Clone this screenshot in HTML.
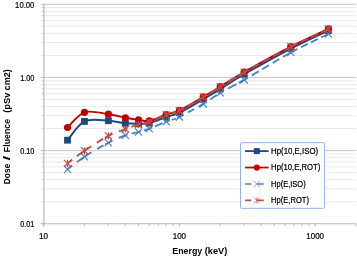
<!DOCTYPE html><html><head><meta charset="utf-8"><title>chart</title><style>html,body{margin:0;padding:0;background:#fff}svg{display:block;will-change:transform}text{font-family:"Liberation Sans",sans-serif;fill:#000;stroke:#000;stroke-width:0.22px}text[font-weight=bold]{stroke:none}</style></head><body>
<svg width="357" height="257" viewBox="0 0 357 257">
<rect width="100%" height="100%" fill="#fff"/>
<line x1="43.6" y1="201.73" x2="356.2" y2="201.73" stroke="#e3e3e3" stroke-width="0.8"/>
<line x1="43.6" y1="188.85" x2="356.2" y2="188.85" stroke="#e3e3e3" stroke-width="0.8"/>
<line x1="43.6" y1="179.71" x2="356.2" y2="179.71" stroke="#e3e3e3" stroke-width="0.8"/>
<line x1="43.6" y1="172.62" x2="356.2" y2="172.62" stroke="#e3e3e3" stroke-width="0.8"/>
<line x1="43.6" y1="166.83" x2="356.2" y2="166.83" stroke="#e3e3e3" stroke-width="0.8"/>
<line x1="43.6" y1="161.93" x2="356.2" y2="161.93" stroke="#e3e3e3" stroke-width="0.8"/>
<line x1="43.6" y1="157.69" x2="356.2" y2="157.69" stroke="#e3e3e3" stroke-width="0.8"/>
<line x1="43.6" y1="153.95" x2="356.2" y2="153.95" stroke="#e3e3e3" stroke-width="0.8"/>
<line x1="43.6" y1="128.58" x2="356.2" y2="128.58" stroke="#e3e3e3" stroke-width="0.8"/>
<line x1="43.6" y1="115.70" x2="356.2" y2="115.70" stroke="#e3e3e3" stroke-width="0.8"/>
<line x1="43.6" y1="106.56" x2="356.2" y2="106.56" stroke="#e3e3e3" stroke-width="0.8"/>
<line x1="43.6" y1="99.47" x2="356.2" y2="99.47" stroke="#e3e3e3" stroke-width="0.8"/>
<line x1="43.6" y1="93.68" x2="356.2" y2="93.68" stroke="#e3e3e3" stroke-width="0.8"/>
<line x1="43.6" y1="88.78" x2="356.2" y2="88.78" stroke="#e3e3e3" stroke-width="0.8"/>
<line x1="43.6" y1="84.54" x2="356.2" y2="84.54" stroke="#e3e3e3" stroke-width="0.8"/>
<line x1="43.6" y1="80.80" x2="356.2" y2="80.80" stroke="#e3e3e3" stroke-width="0.8"/>
<line x1="43.6" y1="55.43" x2="356.2" y2="55.43" stroke="#e3e3e3" stroke-width="0.8"/>
<line x1="43.6" y1="42.55" x2="356.2" y2="42.55" stroke="#e3e3e3" stroke-width="0.8"/>
<line x1="43.6" y1="33.41" x2="356.2" y2="33.41" stroke="#e3e3e3" stroke-width="0.8"/>
<line x1="43.6" y1="26.32" x2="356.2" y2="26.32" stroke="#e3e3e3" stroke-width="0.8"/>
<line x1="43.6" y1="20.53" x2="356.2" y2="20.53" stroke="#e3e3e3" stroke-width="0.8"/>
<line x1="43.6" y1="15.63" x2="356.2" y2="15.63" stroke="#e3e3e3" stroke-width="0.8"/>
<line x1="43.6" y1="11.39" x2="356.2" y2="11.39" stroke="#e3e3e3" stroke-width="0.8"/>
<line x1="43.6" y1="7.65" x2="356.2" y2="7.65" stroke="#e3e3e3" stroke-width="0.8"/>
<line x1="43.6" y1="4.30" x2="356.2" y2="4.30" stroke="#c6c6c6" stroke-width="1"/>
<line x1="43.6" y1="77.45" x2="356.2" y2="77.45" stroke="#c6c6c6" stroke-width="1"/>
<line x1="43.6" y1="150.60" x2="356.2" y2="150.60" stroke="#c6c6c6" stroke-width="1"/>
<line x1="43.90" y1="3.80" x2="43.90" y2="226.55" stroke="#b8b8b8" stroke-width="1.2"/>
<line x1="40.60" y1="223.75" x2="356.20" y2="223.75" stroke="#b8b8b8" stroke-width="1"/>
<line x1="40.90" y1="223.75" x2="43.90" y2="223.75" stroke="#b8b8b8" stroke-width="0.8"/>
<line x1="41.90" y1="201.73" x2="43.90" y2="201.73" stroke="#b8b8b8" stroke-width="0.8"/>
<line x1="41.90" y1="188.85" x2="43.90" y2="188.85" stroke="#b8b8b8" stroke-width="0.8"/>
<line x1="41.90" y1="179.71" x2="43.90" y2="179.71" stroke="#b8b8b8" stroke-width="0.8"/>
<line x1="41.90" y1="172.62" x2="43.90" y2="172.62" stroke="#b8b8b8" stroke-width="0.8"/>
<line x1="41.90" y1="166.83" x2="43.90" y2="166.83" stroke="#b8b8b8" stroke-width="0.8"/>
<line x1="41.90" y1="161.93" x2="43.90" y2="161.93" stroke="#b8b8b8" stroke-width="0.8"/>
<line x1="41.90" y1="157.69" x2="43.90" y2="157.69" stroke="#b8b8b8" stroke-width="0.8"/>
<line x1="41.90" y1="153.95" x2="43.90" y2="153.95" stroke="#b8b8b8" stroke-width="0.8"/>
<line x1="40.90" y1="150.60" x2="43.90" y2="150.60" stroke="#b8b8b8" stroke-width="0.8"/>
<line x1="40.90" y1="150.60" x2="43.90" y2="150.60" stroke="#b8b8b8" stroke-width="0.8"/>
<line x1="41.90" y1="128.58" x2="43.90" y2="128.58" stroke="#b8b8b8" stroke-width="0.8"/>
<line x1="41.90" y1="115.70" x2="43.90" y2="115.70" stroke="#b8b8b8" stroke-width="0.8"/>
<line x1="41.90" y1="106.56" x2="43.90" y2="106.56" stroke="#b8b8b8" stroke-width="0.8"/>
<line x1="41.90" y1="99.47" x2="43.90" y2="99.47" stroke="#b8b8b8" stroke-width="0.8"/>
<line x1="41.90" y1="93.68" x2="43.90" y2="93.68" stroke="#b8b8b8" stroke-width="0.8"/>
<line x1="41.90" y1="88.78" x2="43.90" y2="88.78" stroke="#b8b8b8" stroke-width="0.8"/>
<line x1="41.90" y1="84.54" x2="43.90" y2="84.54" stroke="#b8b8b8" stroke-width="0.8"/>
<line x1="41.90" y1="80.80" x2="43.90" y2="80.80" stroke="#b8b8b8" stroke-width="0.8"/>
<line x1="40.90" y1="77.45" x2="43.90" y2="77.45" stroke="#b8b8b8" stroke-width="0.8"/>
<line x1="40.90" y1="77.45" x2="43.90" y2="77.45" stroke="#b8b8b8" stroke-width="0.8"/>
<line x1="41.90" y1="55.43" x2="43.90" y2="55.43" stroke="#b8b8b8" stroke-width="0.8"/>
<line x1="41.90" y1="42.55" x2="43.90" y2="42.55" stroke="#b8b8b8" stroke-width="0.8"/>
<line x1="41.90" y1="33.41" x2="43.90" y2="33.41" stroke="#b8b8b8" stroke-width="0.8"/>
<line x1="41.90" y1="26.32" x2="43.90" y2="26.32" stroke="#b8b8b8" stroke-width="0.8"/>
<line x1="41.90" y1="20.53" x2="43.90" y2="20.53" stroke="#b8b8b8" stroke-width="0.8"/>
<line x1="41.90" y1="15.63" x2="43.90" y2="15.63" stroke="#b8b8b8" stroke-width="0.8"/>
<line x1="41.90" y1="11.39" x2="43.90" y2="11.39" stroke="#b8b8b8" stroke-width="0.8"/>
<line x1="41.90" y1="7.65" x2="43.90" y2="7.65" stroke="#b8b8b8" stroke-width="0.8"/>
<line x1="40.90" y1="4.30" x2="43.90" y2="4.30" stroke="#b8b8b8" stroke-width="0.8"/>
<line x1="43.60" y1="223.75" x2="43.60" y2="226.55" stroke="#b8b8b8" stroke-width="0.8"/>
<line x1="84.48" y1="223.75" x2="84.48" y2="226.05" stroke="#b8b8b8" stroke-width="0.8"/>
<line x1="108.39" y1="223.75" x2="108.39" y2="226.05" stroke="#b8b8b8" stroke-width="0.8"/>
<line x1="125.36" y1="223.75" x2="125.36" y2="226.05" stroke="#b8b8b8" stroke-width="0.8"/>
<line x1="138.52" y1="223.75" x2="138.52" y2="226.05" stroke="#b8b8b8" stroke-width="0.8"/>
<line x1="149.27" y1="223.75" x2="149.27" y2="226.05" stroke="#b8b8b8" stroke-width="0.8"/>
<line x1="158.36" y1="223.75" x2="158.36" y2="226.05" stroke="#b8b8b8" stroke-width="0.8"/>
<line x1="166.24" y1="223.75" x2="166.24" y2="226.05" stroke="#b8b8b8" stroke-width="0.8"/>
<line x1="173.19" y1="223.75" x2="173.19" y2="226.05" stroke="#b8b8b8" stroke-width="0.8"/>
<line x1="179.40" y1="223.75" x2="179.40" y2="226.55" stroke="#b8b8b8" stroke-width="0.8"/>
<line x1="179.40" y1="223.75" x2="179.40" y2="226.55" stroke="#b8b8b8" stroke-width="0.8"/>
<line x1="220.28" y1="223.75" x2="220.28" y2="226.05" stroke="#b8b8b8" stroke-width="0.8"/>
<line x1="244.19" y1="223.75" x2="244.19" y2="226.05" stroke="#b8b8b8" stroke-width="0.8"/>
<line x1="261.16" y1="223.75" x2="261.16" y2="226.05" stroke="#b8b8b8" stroke-width="0.8"/>
<line x1="274.32" y1="223.75" x2="274.32" y2="226.05" stroke="#b8b8b8" stroke-width="0.8"/>
<line x1="285.07" y1="223.75" x2="285.07" y2="226.05" stroke="#b8b8b8" stroke-width="0.8"/>
<line x1="294.16" y1="223.75" x2="294.16" y2="226.05" stroke="#b8b8b8" stroke-width="0.8"/>
<line x1="302.04" y1="223.75" x2="302.04" y2="226.05" stroke="#b8b8b8" stroke-width="0.8"/>
<line x1="308.99" y1="223.75" x2="308.99" y2="226.05" stroke="#b8b8b8" stroke-width="0.8"/>
<line x1="315.20" y1="223.75" x2="315.20" y2="226.55" stroke="#b8b8b8" stroke-width="0.8"/>
<line x1="315.20" y1="223.75" x2="315.20" y2="226.55" stroke="#b8b8b8" stroke-width="0.8"/>
<line x1="356.08" y1="223.75" x2="356.08" y2="226.05" stroke="#b8b8b8" stroke-width="0.8"/>
<path d="M67.51 140.20 C70.34 137.07 77.67 124.65 84.48 121.40 C91.29 118.15 101.58 120.38 108.39 120.70 C115.21 121.02 120.34 122.80 125.36 123.30 C130.38 123.80 134.53 123.73 138.52 123.70 C142.51 123.67 144.65 124.22 149.27 123.10 C153.89 121.98 161.22 118.73 166.24 117.00 C171.26 115.27 173.22 115.67 179.40 112.70 C185.58 109.73 196.50 103.13 203.31 99.20 C210.13 95.27 213.47 93.25 220.28 89.10 C227.09 84.95 232.43 81.03 244.19 74.30 C255.96 67.57 276.84 55.97 290.87 48.70 C304.90 41.43 322.11 33.70 328.36 30.70" fill="none" stroke="#1f497d" stroke-width="1.9" stroke-linecap="round"/>
<rect x="64.11" y="136.80" width="6.8" height="6.8" fill="#1f497d"/>
<rect x="81.08" y="118.00" width="6.8" height="6.8" fill="#1f497d"/>
<rect x="104.99" y="117.30" width="6.8" height="6.8" fill="#1f497d"/>
<rect x="121.96" y="119.90" width="6.8" height="6.8" fill="#1f497d"/>
<rect x="135.12" y="120.30" width="6.8" height="6.8" fill="#1f497d"/>
<rect x="145.87" y="119.70" width="6.8" height="6.8" fill="#1f497d"/>
<rect x="162.84" y="113.60" width="6.8" height="6.8" fill="#1f497d"/>
<rect x="176.00" y="109.30" width="6.8" height="6.8" fill="#1f497d"/>
<rect x="199.91" y="95.80" width="6.8" height="6.8" fill="#1f497d"/>
<rect x="216.88" y="85.70" width="6.8" height="6.8" fill="#1f497d"/>
<rect x="240.79" y="70.90" width="6.8" height="6.8" fill="#1f497d"/>
<rect x="287.47" y="45.30" width="6.8" height="6.8" fill="#1f497d"/>
<rect x="324.96" y="27.30" width="6.8" height="6.8" fill="#1f497d"/>
<path d="M67.51 127.50 C70.34 124.97 77.67 114.52 84.48 112.30 C91.29 110.08 101.58 113.28 108.39 114.20 C115.21 115.12 120.34 116.87 125.36 117.80 C130.38 118.73 134.53 119.28 138.52 119.80 C142.51 120.32 144.65 121.78 149.27 120.90 C153.89 120.02 161.22 116.25 166.24 114.50 C171.26 112.75 173.22 113.35 179.40 110.40 C185.58 107.45 196.50 100.75 203.31 96.80 C210.13 92.85 213.47 90.83 220.28 86.70 C227.09 82.57 232.43 78.68 244.19 72.00 C255.96 65.32 276.84 53.78 290.87 46.60 C304.90 39.42 322.11 31.85 328.36 28.90" fill="none" stroke="#c00000" stroke-width="1.9" stroke-linecap="round"/>
<circle cx="67.51" cy="127.50" r="3.6" fill="#c00000"/>
<circle cx="84.48" cy="112.30" r="3.6" fill="#c00000"/>
<circle cx="108.39" cy="114.20" r="3.6" fill="#c00000"/>
<circle cx="125.36" cy="117.80" r="3.6" fill="#c00000"/>
<circle cx="138.52" cy="119.80" r="3.6" fill="#c00000"/>
<circle cx="149.27" cy="120.90" r="3.6" fill="#c00000"/>
<circle cx="166.24" cy="114.50" r="3.6" fill="#c00000"/>
<circle cx="179.40" cy="110.40" r="3.6" fill="#c00000"/>
<circle cx="203.31" cy="96.80" r="3.6" fill="#c00000"/>
<circle cx="220.28" cy="86.70" r="3.6" fill="#c00000"/>
<circle cx="244.19" cy="72.00" r="3.6" fill="#c00000"/>
<circle cx="290.87" cy="46.60" r="3.6" fill="#c00000"/>
<circle cx="328.36" cy="28.90" r="3.6" fill="#c00000"/>
<path d="M67.51 169.20 C70.34 167.12 77.67 161.12 84.48 156.70" fill="none" stroke="#4a7ebb" stroke-width="1.8" stroke-dasharray="6.2 5.6 20 99"/>
<path d="M84.48 156.70 C91.29 152.28 101.58 146.27 108.39 142.70" fill="none" stroke="#4a7ebb" stroke-width="1.8" stroke-dasharray="8.3 6.4 7.4 1.8 9 99"/>
<path d="M108.39 142.70 C115.21 139.13 120.34 137.08 125.36 135.30" fill="none" stroke="#4a7ebb" stroke-width="1.8" stroke-dasharray="4.3 7.0 20 99"/>
<path d="M125.36 135.30 C130.38 133.52 134.53 133.10 138.52 132.00" fill="none" stroke="#4a7ebb" stroke-width="1.8" stroke-dasharray="2.1 4.3 20 99"/>
<path d="M138.52 132.00 C142.51 130.90 144.65 130.43 149.27 128.70" fill="none" stroke="#4a7ebb" stroke-width="1.8" stroke-dasharray="2.2 3.4 20 99"/>
<path d="M149.27 128.70 C153.89 126.97 161.22 123.57 166.24 121.60" fill="none" stroke="#4a7ebb" stroke-width="1.8" stroke-dasharray="3.6 2.8 7.8 2 9 99"/>
<path d="M166.24 121.60 C171.26 119.63 173.22 119.85 179.40 116.90" fill="none" stroke="#4a7ebb" stroke-width="1.8" stroke-dasharray="3.6 2 4.5 1.5 9 99"/>
<path d="M179.40 116.90 C185.58 113.95 196.50 107.92 203.31 103.90" fill="none" stroke="#4a7ebb" stroke-width="1.8" stroke-dasharray="4.9 4.7 7 5 20 99"/>
<path d="M203.31 103.90 C210.13 99.88 213.47 96.80 220.28 92.80" fill="none" stroke="#4a7ebb" stroke-width="1.8" stroke-dasharray="4 4.1 8.1 1.5 9 99"/>
<path d="M220.28 92.80 C227.09 88.80 232.43 86.62 244.19 79.90" fill="none" stroke="#4a7ebb" stroke-width="1.8" stroke-dasharray="4.1 4.9 9.4 2.7 20 99"/>
<path d="M244.19 79.90 C255.96 73.18 276.84 60.15 290.87 52.50" fill="none" stroke="#4a7ebb" stroke-width="1.8" stroke-dasharray="4.6 4.6 7.9 4 7.7 4.3 7.7 4.2 20 99"/>
<path d="M290.87 52.50 C304.90 44.85 322.11 37.08 328.36 34.00" fill="none" stroke="#4a7ebb" stroke-width="1.8" stroke-dasharray="7.4 3.9 7.5 3.5 7.5 3.9 20 99"/>
<path d="M63.91 165.60 l7.2 7.2 m-7.2 0 l7.2 -7.2" fill="none" stroke="#4a7ebb" stroke-width="1.1"/>
<path d="M80.88 153.10 l7.2 7.2 m-7.2 0 l7.2 -7.2" fill="none" stroke="#4a7ebb" stroke-width="1.1"/>
<path d="M104.79 139.10 l7.2 7.2 m-7.2 0 l7.2 -7.2" fill="none" stroke="#4a7ebb" stroke-width="1.1"/>
<path d="M121.76 131.70 l7.2 7.2 m-7.2 0 l7.2 -7.2" fill="none" stroke="#4a7ebb" stroke-width="1.1"/>
<path d="M134.92 128.40 l7.2 7.2 m-7.2 0 l7.2 -7.2" fill="none" stroke="#4a7ebb" stroke-width="1.1"/>
<path d="M145.67 125.10 l7.2 7.2 m-7.2 0 l7.2 -7.2" fill="none" stroke="#4a7ebb" stroke-width="1.1"/>
<path d="M162.64 118.00 l7.2 7.2 m-7.2 0 l7.2 -7.2" fill="none" stroke="#4a7ebb" stroke-width="1.1"/>
<path d="M175.80 113.30 l7.2 7.2 m-7.2 0 l7.2 -7.2" fill="none" stroke="#4a7ebb" stroke-width="1.1"/>
<path d="M199.71 100.30 l7.2 7.2 m-7.2 0 l7.2 -7.2" fill="none" stroke="#4a7ebb" stroke-width="1.1"/>
<path d="M216.68 89.20 l7.2 7.2 m-7.2 0 l7.2 -7.2" fill="none" stroke="#4a7ebb" stroke-width="1.1"/>
<path d="M240.59 76.30 l7.2 7.2 m-7.2 0 l7.2 -7.2" fill="none" stroke="#4a7ebb" stroke-width="1.1"/>
<path d="M287.27 48.90 l7.2 7.2 m-7.2 0 l7.2 -7.2" fill="none" stroke="#4a7ebb" stroke-width="1.1"/>
<path d="M324.76 30.40 l7.2 7.2 m-7.2 0 l7.2 -7.2" fill="none" stroke="#4a7ebb" stroke-width="1.1"/>
<path d="M67.51 163.40 C70.34 161.30 77.67 155.38 84.48 150.80" fill="none" stroke="#be4b48" stroke-width="1.8" stroke-dasharray="6.2 5.6 20 99"/>
<path d="M84.48 150.80 C91.29 146.22 101.58 139.52 108.39 135.90" fill="none" stroke="#be4b48" stroke-width="1.8" stroke-dasharray="8.3 6.4 7.4 1.8 9 99"/>
<path d="M108.39 135.90 C115.21 132.28 120.34 131.02 125.36 129.10" fill="none" stroke="#be4b48" stroke-width="1.8" stroke-dasharray="4.3 7.0 20 99"/>
<path d="M125.36 129.10 C130.38 127.18 134.53 125.60 138.52 124.40" fill="none" stroke="#be4b48" stroke-width="1.8" stroke-dasharray="2.1 4.3 20 99"/>
<path d="M138.52 124.40 C142.51 123.20 144.65 123.48 149.27 121.90" fill="none" stroke="#be4b48" stroke-width="1.8" stroke-dasharray="2.2 3.4 20 99"/>
<path d="M149.27 121.90 C153.89 120.32 161.22 116.77 166.24 114.90" fill="none" stroke="#be4b48" stroke-width="1.8" stroke-dasharray="3.6 2.8 7.8 2 9 99"/>
<path d="M166.24 114.90 C171.26 113.03 173.22 113.68 179.40 110.70" fill="none" stroke="#be4b48" stroke-width="1.8" stroke-dasharray="3.6 2 4.5 1.5 9 99"/>
<path d="M179.40 110.70 C185.58 107.72 196.50 100.97 203.31 97.00" fill="none" stroke="#be4b48" stroke-width="1.8" stroke-dasharray="4.9 4.7 7 5 20 99"/>
<path d="M203.31 97.00 C210.13 93.03 213.47 91.03 220.28 86.90" fill="none" stroke="#be4b48" stroke-width="1.8" stroke-dasharray="4 4.1 8.1 1.5 9 99"/>
<path d="M220.28 86.90 C227.09 82.77 232.43 78.88 244.19 72.20" fill="none" stroke="#be4b48" stroke-width="1.8" stroke-dasharray="4.1 4.9 9.4 2.7 20 99"/>
<path d="M244.19 72.20 C255.96 65.52 276.84 53.98 290.87 46.80" fill="none" stroke="#be4b48" stroke-width="1.8" stroke-dasharray="4.6 4.6 7.9 4 7.7 4.3 7.7 4.2 20 99"/>
<path d="M290.87 46.80 C304.90 39.62 322.11 32.05 328.36 29.10" fill="none" stroke="#be4b48" stroke-width="1.8" stroke-dasharray="7.4 3.9 7.5 3.5 7.5 3.9 20 99"/>
<path d="M63.91 159.80 l7.2 7.2 m-7.2 0 l7.2 -7.2 m-3.6 0 l0 7.2" fill="none" stroke="#be4b48" stroke-width="1.1"/>
<path d="M80.88 147.20 l7.2 7.2 m-7.2 0 l7.2 -7.2 m-3.6 0 l0 7.2" fill="none" stroke="#be4b48" stroke-width="1.1"/>
<path d="M104.79 132.30 l7.2 7.2 m-7.2 0 l7.2 -7.2 m-3.6 0 l0 7.2" fill="none" stroke="#be4b48" stroke-width="1.1"/>
<path d="M121.76 125.50 l7.2 7.2 m-7.2 0 l7.2 -7.2 m-3.6 0 l0 7.2" fill="none" stroke="#be4b48" stroke-width="1.1"/>
<path d="M134.92 120.80 l7.2 7.2 m-7.2 0 l7.2 -7.2 m-3.6 0 l0 7.2" fill="none" stroke="#be4b48" stroke-width="1.1"/>
<path d="M145.67 118.30 l7.2 7.2 m-7.2 0 l7.2 -7.2 m-3.6 0 l0 7.2" fill="none" stroke="#be4b48" stroke-width="1.1"/>
<path d="M162.64 111.30 l7.2 7.2 m-7.2 0 l7.2 -7.2 m-3.6 0 l0 7.2" fill="none" stroke="#be4b48" stroke-width="1.1"/>
<path d="M175.80 107.10 l7.2 7.2 m-7.2 0 l7.2 -7.2 m-3.6 0 l0 7.2" fill="none" stroke="#be4b48" stroke-width="1.1"/>
<path d="M199.71 93.40 l7.2 7.2 m-7.2 0 l7.2 -7.2 m-3.6 0 l0 7.2" fill="none" stroke="#be4b48" stroke-width="1.1"/>
<path d="M216.68 83.30 l7.2 7.2 m-7.2 0 l7.2 -7.2 m-3.6 0 l0 7.2" fill="none" stroke="#be4b48" stroke-width="1.1"/>
<path d="M240.59 68.60 l7.2 7.2 m-7.2 0 l7.2 -7.2 m-3.6 0 l0 7.2" fill="none" stroke="#be4b48" stroke-width="1.1"/>
<path d="M287.27 43.20 l7.2 7.2 m-7.2 0 l7.2 -7.2 m-3.6 0 l0 7.2" fill="none" stroke="#be4b48" stroke-width="1.1"/>
<path d="M324.76 25.50 l7.2 7.2 m-7.2 0 l7.2 -7.2 m-3.6 0 l0 7.2" fill="none" stroke="#be4b48" stroke-width="1.1"/>
<rect x="240.5" y="142.7" width="83.9" height="65.6" rx="0.8" fill="#fff" stroke="#94b3e0" stroke-width="1"/>
<line x1="245.1" y1="151.10" x2="268.6" y2="151.10" stroke="#1f497d" stroke-width="1.8"/>
<rect x="253.80" y="148.10" width="6" height="6" fill="#1f497d"/>
<line x1="245.1" y1="167.53" x2="268.6" y2="167.53" stroke="#c00000" stroke-width="1.8"/>
<circle cx="256.80" cy="167.53" r="3.1" fill="#c00000"/>
<line x1="245.1" y1="183.96" x2="268.6" y2="183.96" stroke="#4a7ebb" stroke-width="1.6" stroke-dasharray="6.2 6.2"/>
<path d="M253.80 180.96 l6 6 m-6 0 l6 -6" fill="none" stroke="#4a7ebb" stroke-width="0.7"/>
<line x1="245.1" y1="200.39" x2="268.6" y2="200.39" stroke="#be4b48" stroke-width="1.6" stroke-dasharray="6.2 6.2"/>
<path d="M253.80 197.39 l6 6 m-6 0 l6 -6 m-3 0 l0 6" fill="none" stroke="#be4b48" stroke-width="0.7"/>
<text x="271.1" y="154.00" font-size="8.2" textLength="47.0" lengthAdjust="spacingAndGlyphs">Hp(10,E,ISO)</text>
<text x="271.1" y="170.43" font-size="8.2" textLength="49.2" lengthAdjust="spacingAndGlyphs">Hp(10,E,ROT)</text>
<text x="271.1" y="186.86" font-size="8.2" textLength="34.6" lengthAdjust="spacingAndGlyphs">Hp(E,ISO)</text>
<text x="271.1" y="203.29" font-size="8.2" textLength="37.8" lengthAdjust="spacingAndGlyphs">Hp(E,ROT)</text>
<text x="34.4" y="7.80" font-size="8.8" text-anchor="end" textLength="19.3" lengthAdjust="spacingAndGlyphs">10.00</text>
<text x="34.4" y="80.95" font-size="8.8" text-anchor="end" textLength="14.2" lengthAdjust="spacingAndGlyphs">1.00</text>
<text x="34.4" y="154.10" font-size="8.8" text-anchor="end" textLength="14.2" lengthAdjust="spacingAndGlyphs">0.10</text>
<text x="34.4" y="227.25" font-size="8.8" text-anchor="end" textLength="14.2" lengthAdjust="spacingAndGlyphs">0.01</text>
<text x="43.60" y="238.7" font-size="8.8" text-anchor="middle" textLength="9.0" lengthAdjust="spacingAndGlyphs">10</text>
<text x="179.40" y="238.7" font-size="8.8" text-anchor="middle" textLength="13.4" lengthAdjust="spacingAndGlyphs">100</text>
<text x="315.20" y="238.7" font-size="8.8" text-anchor="middle" textLength="17.7" lengthAdjust="spacingAndGlyphs">1000</text>
<text y="254" font-size="9.8" font-weight="bold"><tspan x="172.3" textLength="30.0" lengthAdjust="spacingAndGlyphs">Energy</tspan> <tspan x="204.7" textLength="22.6" lengthAdjust="spacingAndGlyphs">(keV)</tspan></text>
<text transform="translate(9.6,0) rotate(-90)" y="0" font-size="9.8" font-weight="bold"><tspan x="-184.2" textLength="20.5" lengthAdjust="spacingAndGlyphs">Dose</tspan> <tspan x="-160.4" textLength="4.8" lengthAdjust="spacingAndGlyphs">/</tspan> <tspan x="-152.2" textLength="33.3" lengthAdjust="spacingAndGlyphs">Fluence</tspan> <tspan x="-112.8" textLength="20.2" lengthAdjust="spacingAndGlyphs">(pSv</tspan> <tspan x="-90.4" textLength="21.3" lengthAdjust="spacingAndGlyphs">cm2)</tspan></text>
</svg></body></html>
